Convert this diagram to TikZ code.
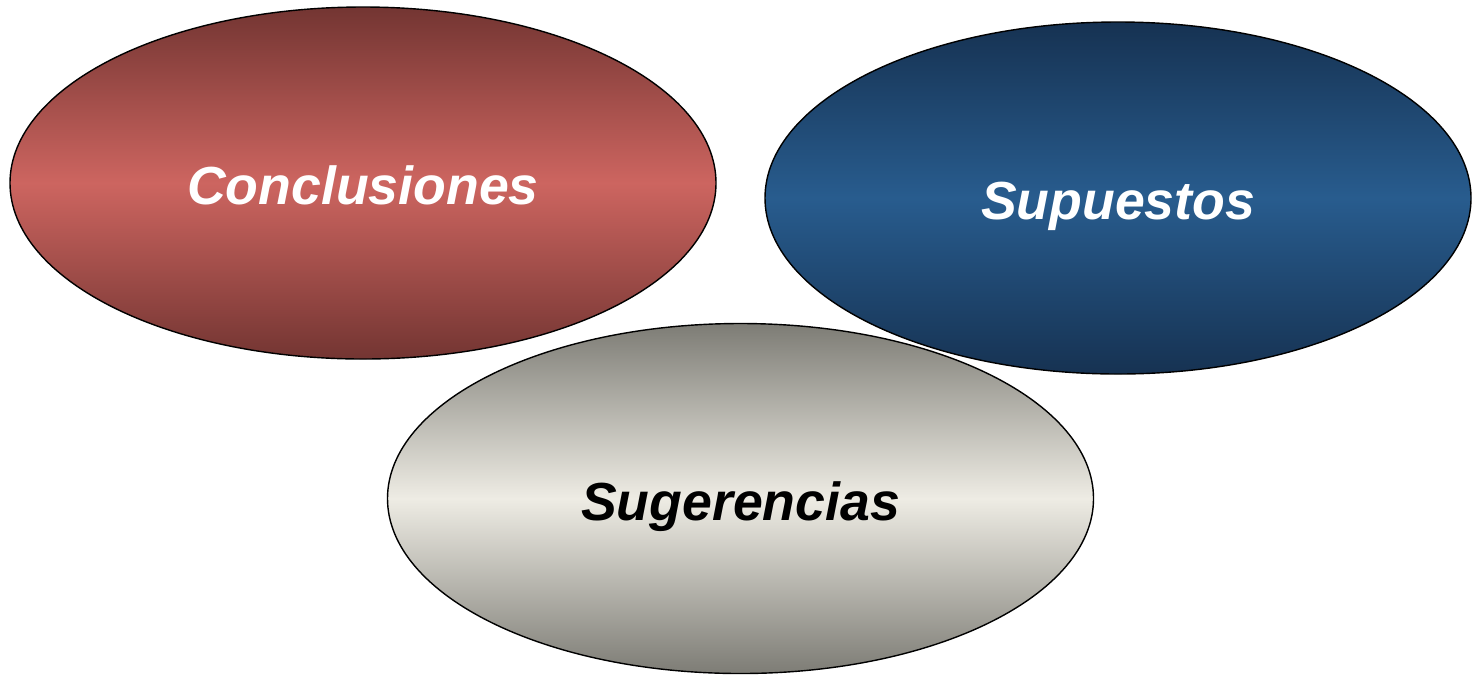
\documentclass[tikz,border=0pt]{standalone}
\usepackage{fontspec}
\setmainfont{Liberation Sans}
\usepackage{tikz}
\usetikzlibrary{shapes,positioning}
\definecolor{redDark}{RGB}{115,53,50}
\definecolor{redLight}{RGB}{205,101,96}
\definecolor{blueDark}{RGB}{22,50,82}
\definecolor{blueLight}{RGB}{40,92,142}
\definecolor{grayDark}{RGB}{125,124,117}
\definecolor{grayLight}{RGB}{238,236,228}
\tikzstyle{oval} = [ellipse, draw=black, line width=0.8pt,
    minimum width=14.12cm, minimum height=7.04cm,
    text height=25pt, text depth=0pt,
    font=\fontsize{30.5}{36}\selectfont\bfseries\itshape]
\tikzstyle{redoval} = [oval, top color=redDark, bottom color=redDark, middle color=redLight, text=white]
\tikzstyle{blueoval} = [oval, top color=blueDark, bottom color=blueDark, middle color=blueLight, text=white]
\tikzstyle{grayoval} = [oval, top color=grayDark, bottom color=grayDark, middle color=grayLight, text=black]
\begin{document}
\begin{tikzpicture}
    \useasboundingbox (0,0) rectangle (29.54,-13.5);
        \node (conclusiones) [redoval] at (7.26,-3.66) {Conclusiones};
        \node (supuestos) [blueoval] at (22.36,-3.96) {Supuestos};
        \node (sugerencias) [grayoval, minimum height=7.0cm] at (14.81,-9.97) {Sugerencias};
    \end{tikzpicture}
\end{document}
